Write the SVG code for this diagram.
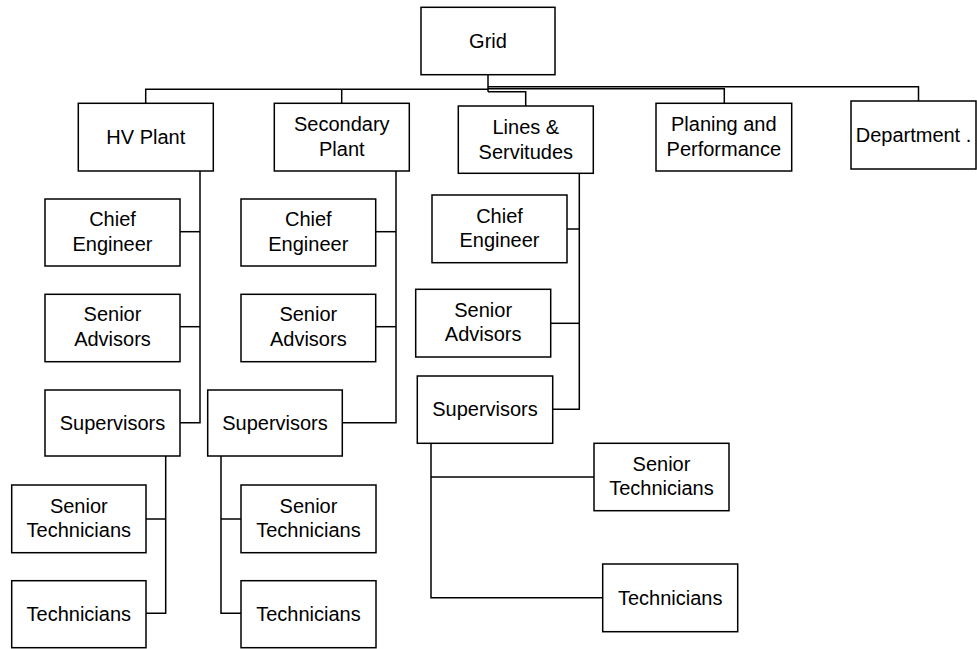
<svg xmlns="http://www.w3.org/2000/svg" width="977" height="649" viewBox="0 0 977 649">
<style>
.box{fill:#fff;stroke:#000;stroke-width:1.5}
.c{fill:none;stroke:#000;stroke-width:1.5}
text{font-family:"Liberation Sans",Arial,sans-serif;font-size:20px;fill:#000;text-anchor:middle}
</style>
<rect width="977" height="649" fill="#fff"/>
<g id="connectors" class="c">
<path d="M488,75 V91.7"/>
<path d="M488,89.3 H145.7 V103.3"/>
<path d="M341.7,89.3 V103.3"/>
<path d="M488,86.7 H918.5 V101"/>
<path d="M488,88.7 H724.3 V103.3"/>
<path d="M488,91.7 H525.7 V106"/>
<path d="M200,171 V422.7 H180"/>
<path d="M180,231.7 H200"/>
<path d="M180,326.7 H200"/>
<path d="M396,171 V422.7 H342.3"/>
<path d="M375.7,231.7 H396"/>
<path d="M375.7,326.7 H396"/>
<path d="M579.3,173.3 V409.3 H552.7"/>
<path d="M567,229 H579.3"/>
<path d="M550.7,323.3 H579.3"/>
<path d="M165.7,456 V613.3 H146"/>
<path d="M146,519 H165.7"/>
<path d="M221,456 V613.3 H241"/>
<path d="M221,519 H241"/>
<path d="M431,443.3 V597.7 H602.7"/>
<path d="M431,477 H594"/>
</g>
<g id="grid"><rect class="box" x="421" y="7.3" width="134" height="67.4"/><text x="488" y="48">Grid</text></g>
<g id="hv-plant"><rect class="box" x="78.3" y="103.3" width="135" height="67.7"/><text x="145.8" y="143.7">HV Plant</text></g>
<g id="secondary-plant"><rect class="box" x="274.3" y="103.3" width="135" height="67.7"/><text x="341.8" y="131.3">Secondary</text><text x="341.8" y="155.8">Plant</text></g>
<g id="lines-servitudes"><rect class="box" x="458.3" y="106" width="135" height="67.3"/><text x="525.8" y="134">Lines &amp;</text><text x="525.8" y="158.8">Servitudes</text></g>
<g id="planning"><rect class="box" x="656" y="103.3" width="135.7" height="67.7"/><text x="723.8" y="131.3">Planing and</text><text x="723.8" y="155.8">Performance</text></g>
<g id="department"><rect class="box" x="851" y="101" width="125" height="68"/><text x="913.5" y="141.7">Department .</text></g>
<g id="hv-chief"><rect class="box" x="45" y="199" width="135" height="67"/><text x="112.5" y="225.9">Chief</text><text x="112.5" y="250.6">Engineer</text></g>
<g id="hv-advisors"><rect class="box" x="45" y="294.3" width="135" height="67.4"/><text x="112.5" y="321.3">Senior</text><text x="112.5" y="345.9">Advisors</text></g>
<g id="hv-supervisors"><rect class="box" x="45" y="390" width="135" height="66"/><text x="112.5" y="429.5">Supervisors</text></g>
<g id="hv-senior-tech"><rect class="box" x="11.7" y="485" width="134.3" height="67.7"/><text x="78.8" y="512.5">Senior</text><text x="78.8" y="537">Technicians</text></g>
<g id="hv-tech"><rect class="box" x="11.7" y="580.7" width="134.3" height="67"/><text x="78.8" y="621">Technicians</text></g>
<g id="sec-chief"><rect class="box" x="241" y="199" width="134.7" height="67"/><text x="308.3" y="225.9">Chief</text><text x="308.3" y="250.6">Engineer</text></g>
<g id="sec-advisors"><rect class="box" x="241" y="294.3" width="134.7" height="67.4"/><text x="308.3" y="321.3">Senior</text><text x="308.3" y="345.9">Advisors</text></g>
<g id="sec-supervisors"><rect class="box" x="207.7" y="390" width="134.6" height="66"/><text x="275" y="429.5">Supervisors</text></g>
<g id="sec-senior-tech"><rect class="box" x="241" y="485" width="135" height="67.7"/><text x="308.5" y="512.5">Senior</text><text x="308.5" y="537">Technicians</text></g>
<g id="sec-tech"><rect class="box" x="241" y="580.7" width="135" height="67"/><text x="308.5" y="621">Technicians</text></g>
<g id="ls-chief"><rect class="box" x="432" y="195" width="135" height="67.7"/><text x="499.5" y="222.5">Chief</text><text x="499.5" y="247">Engineer</text></g>
<g id="ls-advisors"><rect class="box" x="415.7" y="289.3" width="135" height="67.7"/><text x="483.2" y="316.5">Senior</text><text x="483.2" y="341">Advisors</text></g>
<g id="ls-supervisors"><rect class="box" x="417.3" y="376" width="135.4" height="67.3"/><text x="485" y="416">Supervisors</text></g>
<g id="ls-senior-tech"><rect class="box" x="594" y="443.3" width="135" height="67.4"/><text x="661.5" y="470.5">Senior</text><text x="661.5" y="495">Technicians</text></g>
<g id="ls-tech"><rect class="box" x="602.7" y="564" width="135" height="67.7"/><text x="670.2" y="604.5">Technicians</text></g>
</svg>
